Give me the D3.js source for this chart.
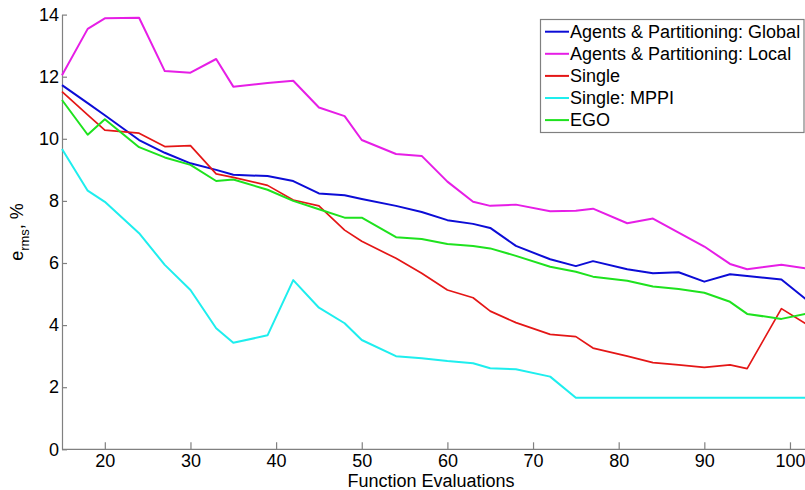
<!DOCTYPE html>
<html>
<head>
<meta charset="utf-8">
<script src="https://cdn.jsdelivr.net/npm/d3@7"></script>
<style>
  html, body { margin: 0; padding: 0; background: #fff; }
  svg { display: block; font-family: "Liberation Sans", Arial, sans-serif; }
</style>
</head>
<body>
<svg id="chart" width="805" height="490"></svg>
<script>
// ---- data ----
const evaluations = [15,18,20,24,27,30,33,35,39,42,45,48,50,54,57,60,63,65,68,72,75,77,81,84,87,90,93,95,99,102];
const seriesNames = ["Agents & Partitioning: Global", "Agents & Partitioning: Local", "Single", "Single: MPPI", "EGO"];
const globalVals = [11.73,11.15,10.76,9.96,9.55,9.21,9.00,8.84,8.80,8.64,8.24,8.18,8.06,7.84,7.64,7.38,7.26,7.13,6.55,6.12,5.90,6.06,5.80,5.67,5.70,5.40,5.64,5.58,5.47,4.80];
const localVals  = [12.05,13.54,13.88,13.90,12.18,12.13,12.57,11.68,11.80,11.87,11.01,10.73,9.96,9.51,9.45,8.62,7.97,7.84,7.88,7.67,7.68,7.75,7.28,7.43,6.98,6.53,5.97,5.80,5.94,5.82];
const singleVals = [11.52,10.77,10.28,10.18,9.75,9.78,8.87,8.76,8.50,8.03,7.84,7.06,6.70,6.15,5.67,5.13,4.88,4.45,4.08,3.70,3.63,3.26,3.00,2.79,2.72,2.64,2.72,2.60,4.53,4.02];
const mppiVals   = [9.67,8.33,7.97,6.96,5.94,5.13,3.90,3.43,3.67,5.45,4.56,4.06,3.52,3.00,2.93,2.84,2.77,2.61,2.58,2.34,1.66,1.66,1.66,1.66,1.66,1.66,1.66,1.66,1.66,1.66];
const egoVals    = [11.25,10.13,10.63,9.73,9.40,9.16,8.64,8.69,8.36,8.00,7.73,7.46,7.46,6.83,6.77,6.61,6.55,6.47,6.23,5.88,5.72,5.56,5.43,5.24,5.16,5.04,4.75,4.36,4.20,4.37];
const xTicks = [20,30,40,50,60,70,80,90,100];
const yTicks = [0,2,4,6,8,10,12,14];
const colors = ["#0c0cd6", "#e61ee6", "#e41616", "#1eeeee", "#1ee21e"];

const allSeries = [globalVals, localVals, singleVals, mppiVals, egoVals];

// ---- layout ----
const svg = d3.select("#chart");
const x = d3.scaleLinear().domain([15, 102]).range([62, 807.1]);
const y = d3.scaleLinear().domain([0, 14]).range([449.3, 14.6]);
const axisColor = "#808080";
const fs = 18;

// axes
const gx = svg.append("g").attr("transform", `translate(0,${y(0)})`)
  .call(d3.axisBottom(x).tickValues(xTicks).tickFormat(d3.format("d")).tickSizeInner(-7).tickSizeOuter(0).tickPadding(5));
const gy = svg.append("g").attr("transform", `translate(${x(15)},0)`)
  .call(d3.axisLeft(y).tickValues(yTicks).tickFormat(d3.format("d")).tickSizeInner(-5).tickSizeOuter(0).tickPadding(3));

[gx, gy].forEach(g => {
  g.select(".domain").attr("stroke", axisColor).attr("stroke-width", 1.2);
  g.selectAll(".tick line").attr("stroke", axisColor).attr("stroke-width", 1.2);
  g.selectAll(".tick text").attr("fill", "#000").attr("font-size", fs)
    .attr("font-family", "Liberation Sans, Arial, sans-serif");
});
gx.select(".domain").attr("d", `M${x(15)},0H805`);

// lines
const line = d3.line().x((d, i) => x(evaluations[i])).y(d => y(d));
allSeries.forEach((vals, k) => {
  svg.append("path").datum(vals)
    .attr("fill", "none")
    .attr("stroke", colors[k])
    .attr("stroke-width", k === 2 ? 1.7 : 2)
    .attr("stroke-linejoin", "round")
    .attr("d", line);
});

// axis labels
svg.append("text").attr("x", 431).attr("y", 487).attr("text-anchor", "middle")
  .attr("font-size", fs).attr("fill", "#000").text("Function Evaluations");

const yl = svg.append("text").attr("transform", "translate(23,232) rotate(-90)")
  .attr("text-anchor", "middle").attr("font-size", fs).attr("fill", "#000");
yl.append("tspan").text("e");
yl.append("tspan").attr("font-size", 13).attr("dy", 6).text("rms");
yl.append("tspan").attr("dy", -6).text(", %");

// legend
const lg = svg.append("g");
lg.append("rect").attr("x", 540.5).attr("y", 19.5).attr("width", 263.5).attr("height", 113)
  .attr("fill", "#fff").attr("stroke", axisColor).attr("stroke-width", 1.2);
seriesNames.forEach((name, k) => {
  const cy = 31.7 + k * 22.1;
  lg.append("line").attr("x1", 545).attr("x2", 569).attr("y1", cy).attr("y2", cy)
    .attr("stroke", colors[k]).attr("stroke-width", 2);
  lg.append("text").attr("x", 570).attr("y", cy).attr("dy", "0.34em")
    .attr("font-size", fs).attr("fill", "#000").text(name);
});
</script>
</body>
</html>
